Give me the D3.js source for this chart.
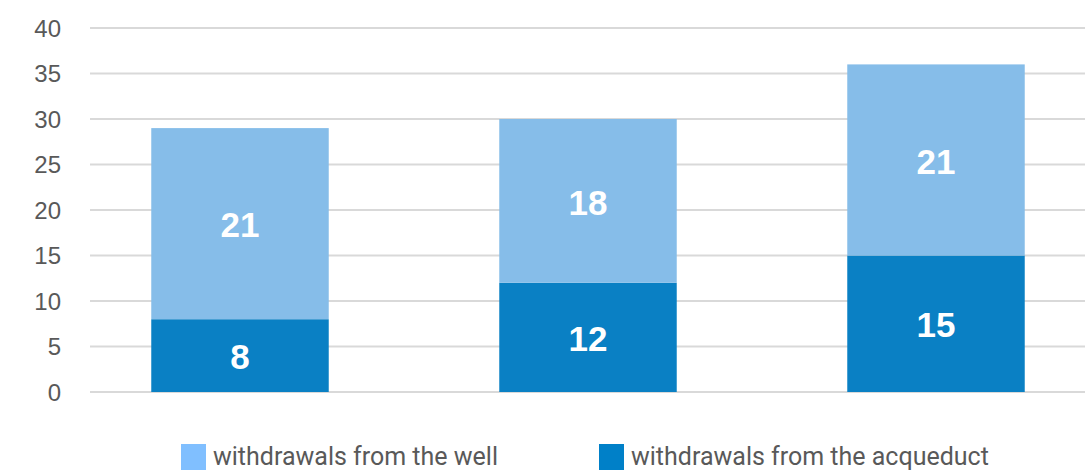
<!DOCTYPE html>
<html>
<head>
<meta charset="utf-8">
<script src="https://cdn.jsdelivr.net/npm/d3@7"></script>
<style>
  body { margin: 0; background: #fff; }
  svg { display: block; }
</style>
</head>
<body>
<svg></svg>
<script>
// chart data
const categories = ['A', 'B', 'C'];
const aqueduct = [8, 12, 15];
const well = [21, 18, 21];
const yTicks = [0, 5, 10, 15, 20, 25, 30, 35, 40];
const seriesNames = ['withdrawals from the well', 'withdrawals from the acqueduct'];

const width = 1091, height = 472;
const colWell = '#86bde9', colAq = '#0a80c4';

const svg = d3.select('svg')
    .attr('width', width)
    .attr('height', height);

const y = d3.scaleLinear().domain([0, 40]).range([392, 28]);
const x = d3.scaleBand().domain(categories).range([66, 1110]).paddingInner(0.49).paddingOuter(0.245);

// gridlines
svg.append('g').selectAll('line')
    .data(yTicks)
    .enter().append('line')
    .attr('x1', 90).attr('x2', 1085)
    .attr('y1', d => y(d)).attr('y2', d => y(d))
    .style('stroke', '#d9d9d9')
    .style('stroke-width', 2);

// y tick labels
svg.append('g').selectAll('text')
    .data(yTicks)
    .enter().append('text')
    .attr('x', 61)
    .attr('y', d => y(d))
    .attr('dy', '0.36em')
    .attr('text-anchor', 'end')
    .style('font-family', 'Liberation Sans, Arial, sans-serif')
    .style('font-size', '24px')
    .style('fill', '#595959')
    .text(d => d);

const stacked = categories.map((c, i) => ({ c, aq: aqueduct[i], well: well[i] }));

const bars = svg.append('g').selectAll('g')
    .data(stacked)
    .enter().append('g');

bars.append('rect')
    .attr('x', d => x(d.c))
    .attr('width', x.bandwidth())
    .attr('y', d => y(d.aq))
    .attr('height', d => y(0) - y(d.aq))
    .style('fill', colAq);

bars.append('rect')
    .attr('x', d => x(d.c))
    .attr('width', x.bandwidth())
    .attr('y', d => y(d.aq + d.well))
    .attr('height', d => y(d.aq) - y(d.aq + d.well))
    .style('fill', colWell);

const labelStyle = sel => sel
    .attr('text-anchor', 'middle')
    .attr('dy', '0.36em')
    .style('font-family', 'Liberation Sans, Arial, sans-serif')
    .style('font-weight', 'bold')
    .style('font-size', '35px')
    .style('fill', '#fff');

bars.append('text')
    .attr('x', d => x(d.c) + x.bandwidth() / 2)
    .attr('y', d => y(d.aq / 2) + 1)
    .call(labelStyle)
    .text(d => d.aq);

bars.append('text')
    .attr('x', d => x(d.c) + x.bandwidth() / 2)
    .attr('y', d => y(d.aq + d.well / 2) + 1)
    .call(labelStyle)
    .text(d => d.well);

// legend
const legendX = [181, 599];
const legendCol = ['#80bfff', '#0080c8'];
const legend = svg.append('g').selectAll('g')
    .data(seriesNames)
    .enter().append('g')
    .attr('transform', (d, i) => 'translate(' + legendX[i] + ',444)');

legend.append('rect')
    .attr('width', 25).attr('height', 26)
    .style('fill', (d, i) => legendCol[i]);

legend.append('text')
    .attr('x', 32)
    .attr('y', 21)
    .style('font-family', 'Roboto, sans-serif')
    .style('font-size', '25px')
    .style('fill', '#595959')
    .text(d => d);
</script>
</body>
</html>
